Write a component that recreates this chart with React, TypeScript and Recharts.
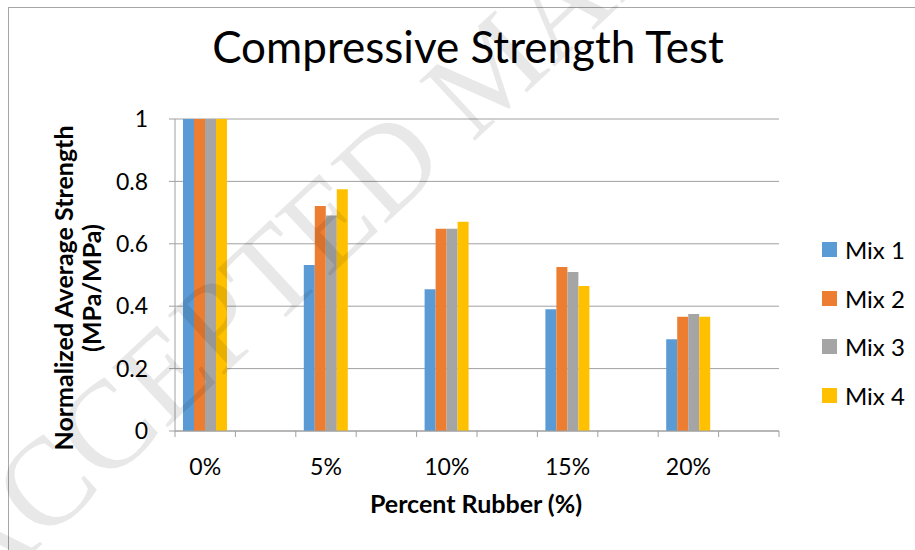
import React from 'react';
import { BarChart, Bar, XAxis, YAxis, CartesianGrid } from 'recharts';

const categories = ['0%', '', '5%', '', '10%', '', '15%', '', '20%', ''];
const mix1 = [1, null, 0.532, null, 0.454, null, 0.39, null, 0.294, null];
const mix2 = [1, null, 0.721, null, 0.648, null, 0.526, null, 0.366, null];
const mix3 = [1, null, 0.691, null, 0.648, null, 0.51, null, 0.375, null];
const mix4 = [1, null, 0.775, null, 0.671, null, 0.465, null, 0.366, null];
const yTicks = [0, 0.2, 0.4, 0.6, 0.8, 1];

const series = [
    { key: 'mix1', name: 'Mix 1', values: mix1, fill: '#5B9BD5' },
    { key: 'mix2', name: 'Mix 2', values: mix2, fill: '#ED7D31' },
    { key: 'mix3', name: 'Mix 3', values: mix3, fill: '#A5A5A5' },
    { key: 'mix4', name: 'Mix 4', values: mix4, fill: '#FFC000' },
];

const data = categories.map((label, i) => {
    const row: Record<string, any> = { idx: i, label };
    series.forEach((s) => {
        row[s.key] = s.values[i];
    });
    return row;
});

const FONT = 'Lato, "Noto Sans", sans-serif';
const GRID = '#A0A0A0';

// plot area geometry
const W = 915;
const H = 550;
const M = { top: 119, right: 136, bottom: 79, left: 115 };
const Y_AXIS_W = 60;
const X_AXIS_H = 40;
const PLOT_W = W - M.left - M.right - Y_AXIS_W;
const BAND = PLOT_W / categories.length;

const XTick = (props: any) => {
    const { x, y, payload, index } = props;
    const left = x - BAND / 2;
    const right = x + BAND / 2;
    return (
        <g>
            <line x1={left} y1={y} x2={left} y2={y + 6} stroke={GRID} />
            {index === categories.length - 1 && (
                <line x1={right} y1={y} x2={right} y2={y + 6} stroke={GRID} />
            )}
            <text x={x} y={y + 44} textAnchor="middle" fontSize={23} fill="#000" fontFamily={FONT}>
                {categories[payload.value]}
            </text>
        </g>
    );
};

const App: React.FC = () => {
    return (
        <div style={{ position: 'absolute', left: 0, top: 0, width: W, height: H, overflow: 'hidden', background: '#fff' }}>
            <div style={{ position: 'absolute', left: 8, top: 7, width: W, height: H, border: '1px solid #A6A6A6' }} />
            <div style={{ position: 'absolute', left: 0, top: 0 }}>
                <BarChart width={W} height={H} data={data} margin={M} barCategoryGap={8} barGap={0}>
                    <CartesianGrid vertical={false} stroke={GRID} />
                    <XAxis
                        dataKey="idx"
                        height={X_AXIS_H}
                        interval={0}
                        tickLine={false}
                        tickSize={0}
                        tickMargin={0}
                        axisLine={{ stroke: GRID }}
                        tick={<XTick />}
                    />
                    <YAxis
                        width={Y_AXIS_W}
                        domain={[0, 1]}
                        ticks={yTicks}
                        tickSize={6}
                        tickMargin={21}
                        axisLine={{ stroke: GRID }}
                        tickLine={{ stroke: GRID }}
                        tick={{ fontSize: 23, fill: '#000', fontFamily: FONT }}
                        tickFormatter={(v: number) => String(v)}
                    />
                    {series.map((s) => (
                        <Bar key={s.key} dataKey={s.key} name={s.name} fill={s.fill} isAnimationActive={false} />
                    ))}
                </BarChart>
            </div>
            <svg width={W} height={H} style={{ position: 'absolute', left: 0, top: 0, pointerEvents: 'none' }}>
                <text x={468} y={63} textAnchor="middle" fontSize={44} fill="#000" fontFamily={FONT}>
                    Compressive Strength Test
                </text>
                <text x={476} y={513} textAnchor="middle" fontSize={25} fontWeight="bold" fill="#000" fontFamily={FONT}>
                    Percent Rubber (%)
                </text>
                <g transform="translate(63, 288) rotate(-90)">
                    <text x={0} y={0} textAnchor="middle" dominantBaseline="central" fontSize={25} fontWeight="bold" fill="#000" fontFamily={FONT}>
                        Normalized Average Strength
                    </text>
                </g>
                <g transform="translate(91, 288) rotate(-90)">
                    <text x={0} y={0} textAnchor="middle" dominantBaseline="central" fontSize={25} fontWeight="bold" fill="#000" fontFamily={FONT}>
                        (MPa/MPa)
                    </text>
                </g>
                {/* watermark */}
                <g transform="translate(-23, 605) rotate(-43)">
                    <text x={0} y={0} fontSize={125} fill="#000" fillOpacity={0.09} fontFamily='"Liberation Serif", serif'>
                        ACCEPTED MANUSCRIPT
                    </text>
                </g>
            </svg>
            <div style={{ position: 'absolute', left: 822, top: 225, fontFamily: FONT, fontSize: 24, color: '#000' }}>
                {series.map((s) => (
                    <div key={s.key} style={{ display: 'flex', alignItems: 'center', height: 48.7 }}>
                        <span style={{ display: 'inline-block', width: 15, height: 15, background: s.fill, marginRight: 8 }} />
                        <span>{s.name}</span>
                    </div>
                ))}
            </div>
        </div>
    );
};

export default App;
